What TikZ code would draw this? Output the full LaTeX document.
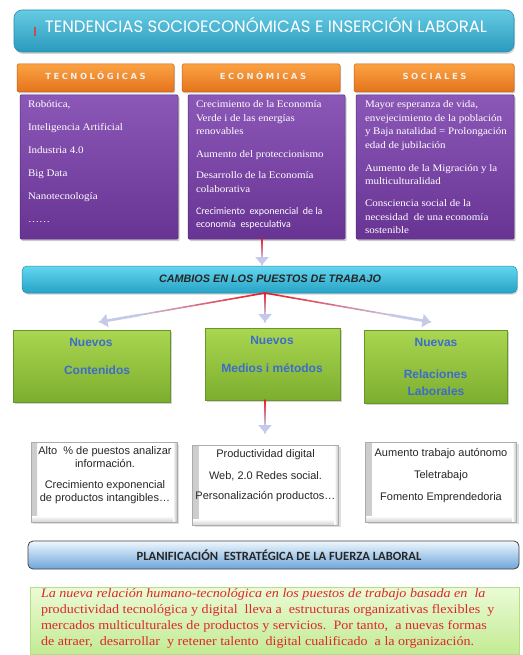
\documentclass[tikz,border=0pt]{standalone}
\usepackage{fontspec}
\setmainfont{Liberation Serif}
\newfontfamily\serifw[FakeStretch=1.1]{Liberation Serif}
\newfontfamily\titlef{Poppins}
\newfontfamily\arialf{Liberation Sans}
\newfontfamily\calf{Carlito}
\newfontfamily\spacedf[LetterSpace=30]{DejaVu Sans}
\usetikzlibrary{shadows,arrows.meta,calc}
\definecolor{tTop}{HTML}{66CBE4}
\definecolor{tBot}{HTML}{2A9ABD}
\definecolor{tBord}{HTML}{2590B0}
\definecolor{oTop}{HTML}{FBA243}
\definecolor{oBot}{HTML}{E4731C}
\definecolor{oBord}{HTML}{C2600F}
\definecolor{pTop}{HTML}{8C58B8}
\definecolor{pBot}{HTML}{683494}
\definecolor{pBord}{HTML}{55287A}
\definecolor{cTop}{HTML}{63D6F0}
\definecolor{cBot}{HTML}{27A3C6}
\definecolor{gTop}{HTML}{AAD650}
\definecolor{gBot}{HTML}{7CAE2E}
\definecolor{gBord}{HTML}{66962A}
\definecolor{blueT}{HTML}{3D6CCB}
\definecolor{planTop}{HTML}{EEF7FD}
\definecolor{planBot}{HTML}{6EA6DA}
\definecolor{botTop}{HTML}{EAFBD6}
\definecolor{botBot}{HTML}{C3EB93}
\definecolor{botBord}{HTML}{B5DE88}
\definecolor{redT}{HTML}{E0262A}
\definecolor{arRed}{HTML}{E8202A}
\definecolor{arLav}{HTML}{C6CAEA}
\definecolor{markRed}{HTML}{C0504D}
\newcommand\fadearrow[2]{%
  \foreach \k in {0,...,11}{%
    \pgfmathsetmacro\fa{\k/12}%
    \pgfmathsetmacro\fb{(\k+1)/12}%
    \pgfmathtruncatemacro\pc{max(0,100-11*\k)}%
    \draw[line width=1.6pt, draw=arRed!\pc!arLav, line cap=round] ($(#1)!\fa!(#2)$) -- ($(#1)!\fb!(#2)$);
  }%
  \draw[arLav, line width=2.6pt, -{Triangle[width=13pt,length=8pt]}] ($(#1)!0.75!(#2)$) -- (#2);
}
\begin{document}
\begin{tikzpicture}[x=1pt,y=-1pt,
  every node/.style={inner sep=0pt, outer sep=0pt},
  titlebox/.style={rounded corners=8pt, top color=tTop, bottom color=tBot, draw=tBord, line width=0.6pt,
    minimum width=500pt, minimum height=42pt, drop shadow={shadow xshift=1pt, shadow yshift=-2pt, opacity=0.35}},
  orangebox/.style={rounded corners=1.5pt, top color=oTop, bottom color=oBot, draw=oBord, line width=0.5pt,
    minimum height=28pt, drop shadow={shadow xshift=1pt, shadow yshift=-1.5pt, opacity=0.35}},
  purplebox/.style={rounded corners=1pt, top color=pTop, bottom color=pBot, draw=pBord, line width=0.5pt,
    minimum height=144pt, drop shadow={shadow xshift=1.5pt, shadow yshift=-2pt, opacity=0.4}},
  cyanbox/.style={rounded corners=5pt, top color=cTop, bottom color=cBot, draw=tBord, line width=0.5pt,
    minimum width=495pt, minimum height=27pt, drop shadow={shadow xshift=1pt, shadow yshift=-1.5pt, opacity=0.35}},
  greenbox/.style={top color=gTop, bottom color=gBot, draw=gBord, line width=0.5pt,
    drop shadow={shadow xshift=1.5pt, shadow yshift=-2pt, opacity=0.35}},
  whitebox/.style={fill=white, draw=gray!65, line width=0.6pt, minimum height=80pt,
    drop shadow={shadow xshift=2pt, shadow yshift=-2pt, opacity=0.25},
    path picture={
      \shade[left color=gray!40, right color=white] (path picture bounding box.south west) rectangle ([xshift=6pt]path picture bounding box.north west);
      \shade[bottom color=gray!35, top color=white] (path picture bounding box.south west) rectangle ([yshift=6pt]path picture bounding box.south east);
      \shade[right color=gray!50, left color=white] (path picture bounding box.south east) rectangle ([xshift=-4pt]path picture bounding box.north east);
    }},
  plantext/.style={font=\calf\bfseries\fontsize{12.6}{14}\selectfont, text=black!85},
  purpletext/.style={anchor=north west, align=left, text=white, font=\serifw\fontsize{10}{13.5}\selectfont},
  orangetext/.style={text=white!94!black, font=\spacedf\bfseries\fontsize{8.4}{9}\selectfont},
  greentext/.style={text=blueT, font=\arialf\bfseries\fontsize{12}{14}\selectfont},
  whitetext/.style={align=center, text=black!85, font=\arialf\fontsize{11}{13}\selectfont},
]
\useasboundingbox (0,0) rectangle (522,655);
\fill[white] (0,0) rectangle (522,655);

% title
\node[titlebox] (title) at (264,31) {};
\node[text=white, font=\titlef\fontsize{16.5}{19}\selectfont] (titletext) at (266,25) {TENDENCIAS SOCIOECONÓMICAS E INSERCIÓN LABORAL};
\draw[markRed, line width=1.2pt] (35,27) -- (35,36);

% orange headers
\node[orangebox, minimum width=157pt] (o1) at (95.5,78) {};
\node[orangebox, minimum width=158pt] (o2) at (261,78) {};
\node[orangebox, minimum width=160pt] (o3) at (434,78) {};
\node[orangetext] (o1t) at (95.5,76) {TECNOLÓGICAS};
\node[orangetext] (o2t) at (263,76) {ECONÓMICAS};
\node[orangetext] (o3t) at (434.5,76) {SOCIALES};

% purple boxes
\node[purplebox, minimum width=158pt] (p1) at (99,167) {};
\node[purplebox, minimum width=157pt] (p2) at (266.5,167) {};
\node[purplebox, minimum width=158pt] (p3) at (435,167) {};
\node[purpletext] (p1t) at (28,101) {Robótica,\\[9.5pt]Inteligencia Artificial\\[9.5pt]Industria 4.0\\[9.5pt]Big Data\\[9.5pt]Nanotecnología\\[9.5pt]\ldots\ldots};
\node[purpletext] (p2t) at (196,101) {Crecimiento de la Economía\\Verde i de las energías\\renovables\\[9.5pt]Aumento del proteccionismo\\[7.5pt]Desarrollo de la Economía\\colaborativa\\[8.5pt]{\calf\fontsize{10}{13.5}\selectfont Crecimiento\ \ exponencial\ \ de la}\\{\calf\fontsize{10}{13.5}\selectfont economía\ \ especulativa}};
\node[purpletext] (p3t) at (365,101) {Mayor esperanza de vida,\\envejecimiento de la población\\y Baja natalidad = Prolongación\\edad de jubilación\\[9.5pt]Aumento de la Migración y la\\multiculturalidad\\[8.5pt]Consciencia social de la\\necesidad\ \ de una economía\\sostenible};

% cambios
\node[cyanbox] (cambios) at (269.5,279.5) {};
\node[font=\arialf\bfseries\itshape\fontsize{10.8}{12}\selectfont, text=black!85] (cambiost) at (270,279) {CAMBIOS EN LOS PUESTOS DE TRABAJO};

% green boxes
\node[greenbox, minimum width=157pt, minimum height=72pt] (g1) at (91.5,366) {};
\node[greenbox, minimum width=135pt, minimum height=72pt] (g2) at (272.5,364) {};
\node[greenbox, minimum width=143pt, minimum height=73pt] (g3) at (435.5,366.5) {};
\node[greentext] (g1a) at (91,342) {Nuevos};
\node[greentext] (g1b) at (97,370) {Contenidos};
\node[greentext] (g2a) at (272,340) {Nuevos};
\node[greentext] (g2b) at (272,368) {Medios i métodos};
\node[greentext] (g3a) at (436,342) {Nuevas};
\node[greentext] (g3b) at (435.5,374) {Relaciones};
\node[greentext] (g3c) at (436,391) {Laborales};

% white boxes
\node[whitebox, minimum width=146pt] (w1) at (104,482) {};
\node[whitebox, minimum width=146pt] (w2) at (265.5,485) {};
\node[whitebox, minimum width=151pt] (w3) at (441,482) {};
\node[whitetext, anchor=north] (w1t) at (105,447) {Alto\ \ \% de puestos analizar\\información.\\[8pt]Crecimiento exponencial\\de productos intangibles\ldots};
\node[whitetext, anchor=north] (w2t) at (265.5,450) {Productividad digital\\[9pt]Web, 2.0 Redes social.\\[7pt]Personalización productos\ldots};
\node[whitetext, anchor=north] (w3t) at (441,448) {Aumento trabajo autónomo\\[9pt]Teletrabajo\\[9pt]Fomento Emprendedoria};

% planificacion
\node[rounded corners=5pt, top color=planTop, bottom color=planBot, draw=black!75, line width=0.8pt,
  minimum width=491pt, minimum height=28pt] (plan) at (273.5,555) {};
\node[plantext] (plant) at (279,555) {PLANIFICACIÓN\ \ ESTRATÉGICA DE LA FUERZA LABORAL};

% bottom text
\node[top color=botTop, bottom color=botBot, draw=botBord, line width=1pt,
  minimum width=489pt, minimum height=67pt] (bottom) at (274.5,620.5) {};
\node[anchor=north west, align=left, text=redT, font=\serifw\fontsize{12.8}{15.7}\selectfont] (bottomt) at (41,589)
 {\textit{La nueva relación humano-tecnológica en los puestos de trabajo basada en\ \ la}\\
  productividad tecnológica y digital\ \ lleva a\ \ estructuras organizativas flexibles\ \ y\\
  mercados multiculturales de productos y servicios.\ \ Por tanto,\ \ a nuevas formas\\
  de atraer,\ \ desarrollar\ \ y retener talento\ \ digital cualificado\ \ a la organización.};

% arrows
\coordinate (a0s) at ([xshift=-4.5pt]p2.south);
\coordinate (a0e) at ([xshift=-4.5pt,yshift=1pt]p2.south |- cambios.north);
\fadearrow{a0s}{a0e}
\coordinate (cs) at ([xshift=-4.5pt]cambios.south);
\coordinate (g1e) at ([xshift=8pt,yshift=8pt]g1.north);
\coordinate (g2e) at ([xshift=-7.5pt,yshift=6pt]g2.north);
\coordinate (g3e) at ([xshift=-5pt,yshift=8pt]g3.north);
\fadearrow{cs}{g1e}
\fadearrow{cs}{g2e}
\fadearrow{cs}{g3e}
\coordinate (b0s) at ([xshift=-7.5pt]g2.south);
\coordinate (b0e) at ([xshift=-7.5pt,yshift=12pt]g2.south |- w2.north);
\fadearrow{b0s}{b0e}
\end{tikzpicture}
\end{document}
